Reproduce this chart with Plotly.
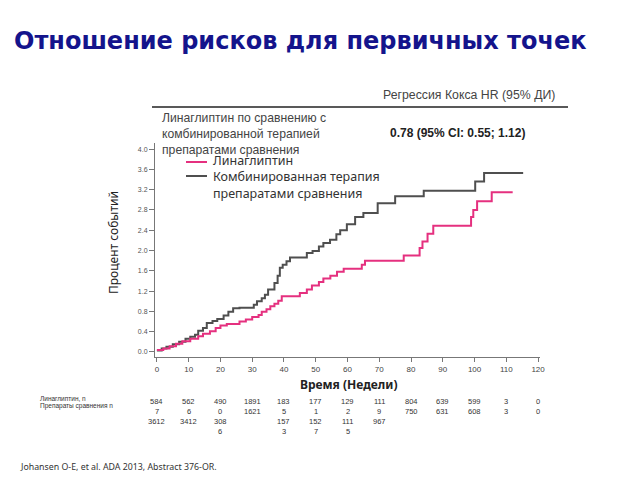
import plotly.graph_objects as go

# кривые (неделя, процент событий), ступенчатые
lina_weeks = [0, 2, 4, 6, 8, 10.5, 13, 14.5, 16.7, 18.5, 20, 22, 26, 28, 30, 32, 33, 34.5, 35.7, 37,
              38.2, 39.3, 45, 47.2, 48.8, 51, 52.4, 54.6, 56.7, 58.8, 64.5, 65.5, 77.7, 82.7, 83.6,
              85.2, 87, 98.9, 99.6, 100.8, 105.4, 112]
lina_pct = [0.04, 0.07, 0.11, 0.16, 0.21, 0.26, 0.31, 0.36, 0.41, 0.47, 0.52, 0.55, 0.60, 0.64, 0.69,
            0.73, 0.79, 0.84, 0.90, 0.95, 1.01, 1.10, 1.16, 1.23, 1.31, 1.38, 1.45, 1.50, 1.58, 1.64,
            1.72, 1.80, 1.90, 2.05, 2.18, 2.33, 2.49, 2.66, 2.80, 2.97, 3.15, 3.15]

comp_weeks = [0, 1.5, 3, 5, 7, 9, 10.5, 12, 13, 14.5, 15.7, 17.5, 19, 21, 22.5, 24, 26, 30.5, 31.5,
              33, 34, 35, 37, 38, 38.7, 39.6, 40.8, 41.9, 47.2, 49, 51, 52.4, 54.5, 56.5, 57.7, 59.8,
              62.4, 65, 69.5, 75, 84, 100.2, 103, 115.3]
comp_pct = [0.03, 0.07, 0.10, 0.15, 0.20, 0.26, 0.30, 0.34, 0.42, 0.47, 0.57, 0.61, 0.65, 0.72, 0.79,
            0.86, 0.87, 0.93, 1.00, 1.06, 1.13, 1.23, 1.36, 1.50, 1.66, 1.72, 1.79, 1.86, 1.95, 1.99,
            2.08, 2.15, 2.21, 2.32, 2.40, 2.52, 2.66, 2.74, 2.93, 3.07, 3.18, 3.36, 3.53, 3.53]

# число пациентов под риском (так, как напечатано — с переносами)
risk_weeks = [0, 10, 20, 30, 40, 50, 60, 70, 80, 90, 100, 110, 120]
risk_row1 = ["584", "562", "490", "1891", "183", "177", "129", "111", "804", "639", "599", "3", "0"]
risk_row2 = ["7", "6", "0", "1621", "5", "1", "2", "9", "750", "631", "608", "3", "0"]
risk_row3 = ["3612", "3412", "308", "", "157", "152", "111", "967", "", "", "", "", ""]
risk_row4 = ["", "", "6", "", "3", "7", "5", "", "", "", "", "", ""]

PINK = "#e5307f"
GREY = "#4f4f4f"
FONT = "DejaVu Sans"

# область графика в пикселях страницы (страница сдвинута на 8px отступом body)
OFF = 8
L, R, T, B = 155, 540, 143, 357


def px(x):
    return (x - L) / (R - L)


def py(y):
    return (B - y) / (B - T)


fig = go.Figure()
fig.add_trace(go.Scatter(x=comp_weeks, y=comp_pct, mode="lines", line=dict(color=GREY, width=2, shape="hv"),
                         showlegend=False))
fig.add_trace(go.Scatter(x=lina_weeks, y=lina_pct, mode="lines", line=dict(color=PINK, width=2, shape="hv"),
                         showlegend=False))

ann = []


def text(x, y, s, size, color="#444", anchor="left", bold=False, family=FONT, angle=0):
    if bold:
        s = "<b>" + s + "</b>"
    ann.append(dict(x=px(x), y=py(y), xref="paper", yref="paper", text=s, showarrow=False,
                    xanchor=anchor, yanchor="middle", textangle=angle, align="left",
                    font=dict(size=size, color=color, family=family)))


text(12, 41, "Отношение рисков для первичных точек", 24, color="#14148c", bold=True)
text(557, 95, "Регрессия Кокса HR (95% ДИ)", 12.3, color="#444", anchor="right", family="Liberation Sans")
text(160, 134, "Линаглиптин по сравнению с<br>комбинированной терапией<br>препаратами сравнения", 12.2,
     family="Liberation Sans")
text(388, 133, "0.78 (95% CI: 0.55; 1.12)", 12, color="#222", bold=True, family="Liberation Sans")
text(211, 177, "Линаглиптин<br>Комбинированная терапия<br>препаратами сравнения", 12.5, color="#333",
     family="Noto Sans")
text(348, 384, "Время (Недели)", 12, color="#222", anchor="center", bold=True, family="Noto Sans")
text(113, 243, "Процент событий", 12, color="#222", anchor="center", family="Noto Sans", angle=-90)
text(38, 398, "Линаглиптин, n", 6.5, color="#333", family="Liberation Sans")
text(38, 406, "Препараты сравнения n", 6.5, color="#333", family="Liberation Sans")
text(18, 467, "Johansen O-E, et al. ADA 2013, Abstract 376-OR.", 8.8, color="#333", family="Noto Sans")

for row, y in zip([risk_row1, risk_row2, risk_row3, risk_row4], [401, 411, 421, 431]):
    for w, s in zip(risk_weeks, row):
        if s:
            ann.append(dict(x=w, y=py(y), xref="x", yref="paper", text=s, showarrow=False,
                            xanchor="center", yanchor="middle",
                            font=dict(size=7.5, color="#333", family="Liberation Sans")))

shapes = [
    dict(type="line", xref="paper", yref="paper", x0=px(152), x1=px(568), y0=py(107), y1=py(107),
         line=dict(color="#222", width=1.5)),
    dict(type="line", xref="paper", yref="paper", x0=px(186), x1=px(207), y0=py(162), y1=py(162),
         line=dict(color=PINK, width=2)),
    dict(type="line", xref="paper", yref="paper", x0=px(186), x1=px(207), y0=py(176), y1=py(176),
         line=dict(color=GREY, width=2)),
]

fig.update_layout(
    width=640, height=480,
    margin=dict(l=L - OFF, r=640 - (R - OFF), t=T - OFF, b=480 - (B - OFF)),
    paper_bgcolor="white", plot_bgcolor="white",
    annotations=ann, shapes=shapes, showlegend=False,
)
fig.update_xaxes(range=[-0.6, 120.6], tick0=0, dtick=10, showgrid=False, zeroline=False,
                 showline=True, linecolor="#777", linewidth=1, ticks="outside", ticklen=4,
                 tickcolor="#777", tickfont=dict(size=8, color="#444", family="Liberation Sans"))
fig.update_yaxes(range=[-0.1, 4.12], tick0=0, dtick=0.4, tickformat=".1f", showgrid=False,
                 zeroline=False, showline=True, linecolor="#777", linewidth=1, ticks="outside",
                 ticklen=5, tickcolor="#777",
                 tickfont=dict(size=7, color="#555", family="Liberation Sans"))

fig.write_html("out.html")
